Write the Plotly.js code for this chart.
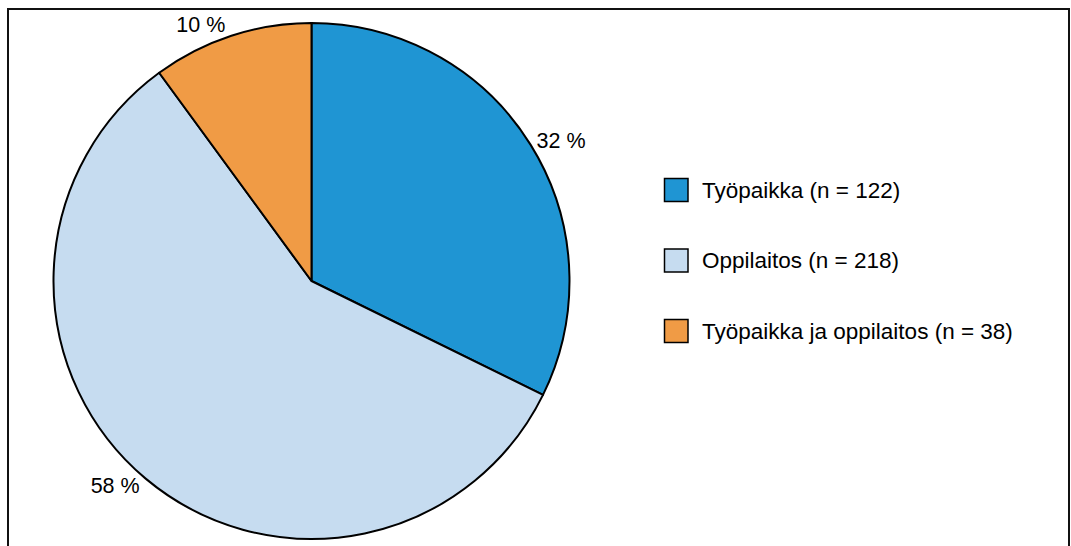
<!DOCTYPE html>
<html><head><meta charset="utf-8">
<script src="https://cdn.plot.ly/plotly-3.0.1.min.js"></script>
<style>html,body{margin:0;padding:0;background:#fff;}#chart{width:1071px;height:546px;}</style>
</head><body><div id="chart"></div>
<script>
const categories = ['Työpaikka', 'Oppilaitos', 'Työpaikka ja oppilaitos'];
const counts = [122, 218, 38];
const colors = ['#1F95D3', '#C6DCF0', '#F09B45'];

const W = 1071, H = 546;
const FONT = '"Liberation Sans", Arial, Helvetica, sans-serif';
const total = counts.reduce((a, b) => a + b, 0);
const pctText = counts.map(v => Math.round(v / total * 100) + ' %');
const legendText = categories.map((c, i) => c + ' (n = ' + counts[i] + ')');

const px = x => x / W, py = y => 1 - y / H;

const shapes = [{type: 'rect', xref: 'paper', yref: 'paper', x0: px(8), x1: px(1069), y0: -0.2, y1: py(9),
  line: {color: '#111111', width: 2}, fillcolor: 'rgba(0,0,0,0)', layer: 'below'}];
const annotations = [];
categories.forEach((c, i) => {
  const yc = 190 + 70.5 * i;
  shapes.push({type: 'rect', xref: 'paper', yref: 'paper', x0: px(664.5), x1: px(688), y0: py(yc + 11.5), y1: py(yc - 11.5),
    fillcolor: colors[i], line: {color: '#000000', width: 1.5}});
  annotations.push({xref: 'paper', yref: 'paper', x: px(700), y: py(yc), xanchor: 'left', yanchor: 'middle',
    text: legendText[i], showarrow: false, font: {family: FONT, size: 22.5, color: '#000000'}});
});

const trace = {
  type: 'pie',
  labels: categories,
  values: counts,
  text: pctText,
  textinfo: 'text',
  textposition: 'outside',
  textfont: {family: FONT, size: 21.5, color: '#000000'},
  marker: {colors: colors, line: {color: '#000000', width: 2}},
  sort: false,
  direction: 'clockwise',
  rotation: 0,
  hoverinfo: 'label+value+percent',
  automargin: false,
  domain: {x: [px(311.5 - 258), px(311.5 + 258)], y: [7 / H, 7 / H + 516 / H]}
};

const layout = {
  width: W, height: H,
  margin: {l: 0, r: 0, t: 0, b: 0},
  showlegend: false,
  paper_bgcolor: '#ffffff',
  plot_bgcolor: '#ffffff',
  shapes: shapes,
  annotations: annotations,
  font: {family: FONT}
};

Plotly.newPlot('chart', [trace], layout, {staticPlot: true});
</script>
</body></html>
